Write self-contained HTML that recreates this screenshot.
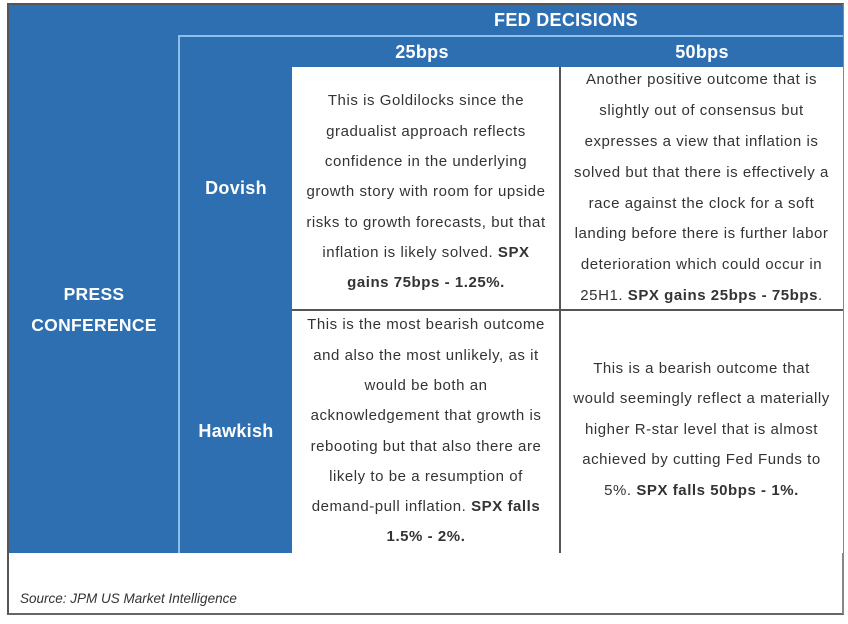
<!DOCTYPE html>
<html><head><meta charset="utf-8"><style>
body{margin:0;width:848px;height:624px;background:#fff;position:relative;overflow:hidden;font-family:"Liberation Sans",Arial,sans-serif}
.a{position:absolute;box-sizing:border-box}
.blue{background:#2e6fb1}
.h{color:#fff;font-weight:bold;display:flex;align-items:center;justify-content:center;text-align:center;letter-spacing:0.3px}
.cell{background:#fff;color:#333;font-size:15px;letter-spacing:0.55px;line-height:30.3px;display:flex;align-items:center;justify-content:center;text-align:center;white-space:nowrap}
</style></head><body>
<div class="a" style="left:7px;top:3px;width:837px;height:612px;border:2px solid #555;border-right-color:#888;border-bottom-color:#666"></div>
<div class="a blue" style="left:9px;top:5px;width:834px;height:548px"></div>
<div class="a h" style="left:466px;top:5px;width:200px;height:30px;font-size:18px">FED DECISIONS</div>
<div class="a" style="left:179px;top:35px;width:664px;height:2px;background:#8cc0ea"></div>
<div class="a" style="left:178px;top:35px;width:2px;height:518px;background:#8cc0ea"></div>
<div class="a h" style="left:372px;top:37px;width:100px;height:30px;font-size:18px">25bps</div>
<div class="a h" style="left:652px;top:37px;width:100px;height:30px;font-size:18px">50bps</div>
<div class="a h" style="left:4px;top:270px;width:180px;height:80px;font-size:17.5px;line-height:31px">PRESS<br>CONFERENCE</div>
<div class="a h" style="left:180px;top:67px;width:112px;height:243px;font-size:18px">Dovish</div>
<div class="a h" style="left:180px;top:310px;width:112px;height:243px;font-size:18px">Hawkish</div>
<div class="a cell" style="left:292px;top:67px;width:268px;height:243px;padding-top:8px"><div>This is Goldilocks since the<br>gradualist approach reflects<br>confidence in the underlying<br>growth story with room for upside<br>risks to growth forecasts, but that<br>inflation is likely solved. <b>SPX</b><br><b>gains 75bps - 1.25%.</b></div></div>
<div class="a cell" style="left:560px;top:67px;width:283px;height:243px;line-height:30.8px"><div>Another positive outcome that is<br>slightly out of consensus but<br>expresses a view that inflation is<br>solved but that there is effectively a<br>race against the clock for a soft<br>landing before there is further labor<br>deterioration which could occur in<br>25H1. <b>SPX gains 25bps - 75bps</b>.</div></div>
<div class="a cell" style="left:292px;top:310px;width:268px;height:243px"><div>This is the most bearish outcome<br>and also the most unlikely, as it<br>would be both an<br>acknowledgement that growth is<br>rebooting but that also there are<br>likely to be a resumption of<br>demand-pull inflation. <b>SPX falls</b><br><b>1.5% - 2%.</b></div></div>
<div class="a cell" style="left:560px;top:310px;width:283px;height:243px;line-height:30.5px;padding-bottom:3px"><div>This is a bearish outcome that<br>would seemingly reflect a materially<br>higher R-star level that is almost<br>achieved by cutting Fed Funds to<br>5%. <b>SPX falls 50bps - 1%.</b></div></div>
<div class="a" style="left:559px;top:67px;width:2px;height:486px;background:#555"></div>
<div class="a" style="left:292px;top:309px;width:551px;height:2px;background:#555"></div>
<div class="a" style="left:20px;top:591px;font-size:13.5px;font-style:italic;color:#333">Source: JPM US Market Intelligence</div>
</body></html>
